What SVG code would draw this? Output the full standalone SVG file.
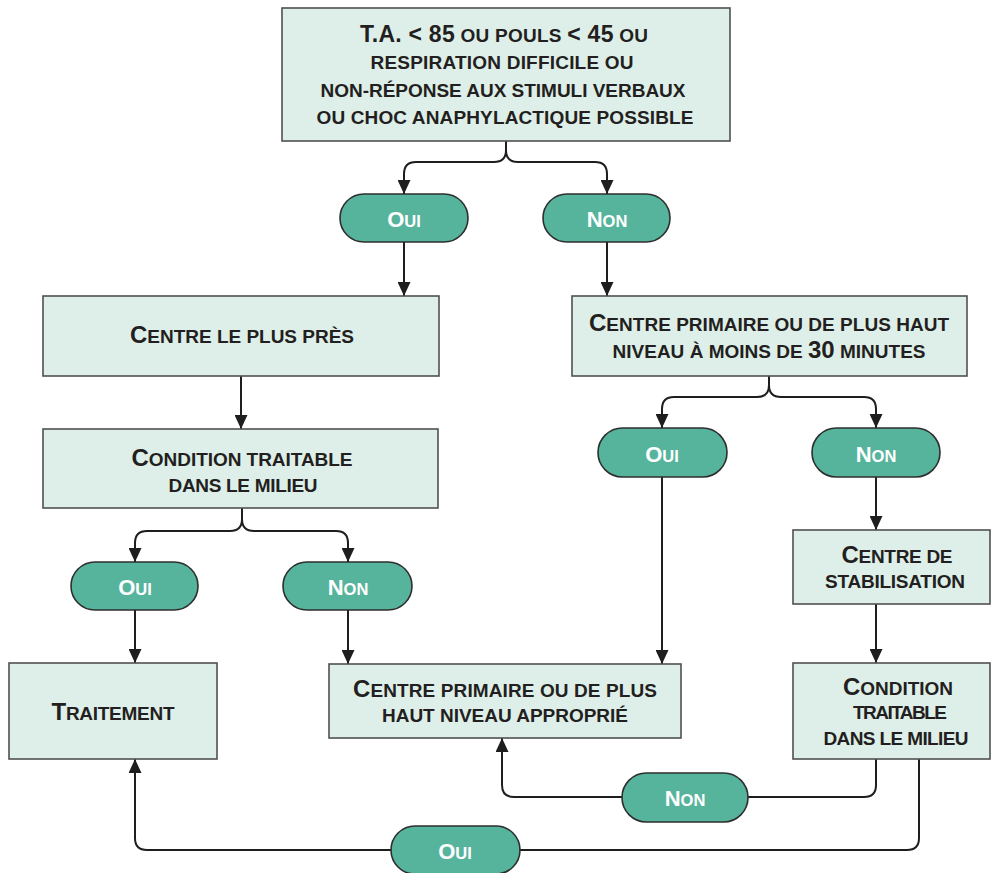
<svg xmlns="http://www.w3.org/2000/svg" width="991" height="873" viewBox="0 0 991 873">
<defs>
<style>
.box{fill:#deefe9;stroke:#505050;stroke-width:1.6}
.pill{fill:#56b49d;stroke:#2e2e2e;stroke-width:1.6}
.ln{fill:none;stroke:#1e1e1e;stroke-width:2}
.t{font-family:"Liberation Sans",Arial,Helvetica,sans-serif;font-weight:bold;fill:#231f20;text-anchor:middle;font-size:19px}
.pt{font-family:"Liberation Sans",Arial,Helvetica,sans-serif;font-weight:bold;fill:#ffffff;text-anchor:middle;font-size:16.5px}
.L{font-size:24px}
.L2{font-size:23px}
.L3{font-size:22px}
</style>
<marker id="ah" markerUnits="userSpaceOnUse" viewBox="0 0 14 13" markerWidth="14" markerHeight="13" refX="14" refY="6.5" orient="auto">
<path d="M0,0 L14,6.5 L0,13 Z" fill="#1e1e1e"/>
</marker>
</defs>
<rect width="991" height="873" fill="#ffffff"/>
<g id="connectors">
<path class="ln" marker-end="url(#ah)" d="M506,141 V150 Q506,162 494,162 H416 Q404,162 404,174 V194"/>
<path class="ln" marker-end="url(#ah)" d="M506,141 V150 Q506,162 518,162 H595 Q607,162 607,174 V194"/>
<path class="ln" marker-end="url(#ah)" d="M404,242 V296"/>
<path class="ln" marker-end="url(#ah)" d="M607,242 V296"/>
<path class="ln" marker-end="url(#ah)" d="M241,376 V429"/>
<path class="ln" marker-end="url(#ah)" d="M242,508 V519 Q242,531 230,531 H147 Q135,531 135,543 V562"/>
<path class="ln" marker-end="url(#ah)" d="M242,508 V519 Q242,531 254,531 H336 Q348,531 348,543 V562"/>
<path class="ln" marker-end="url(#ah)" d="M135,610 V663"/>
<path class="ln" marker-end="url(#ah)" d="M348,610 V664"/>
<path class="ln" marker-end="url(#ah)" d="M769,376 V385 Q769,397 757,397 H674 Q662,397 662,409 V428"/>
<path class="ln" marker-end="url(#ah)" d="M769,376 V385 Q769,397 781,397 H864 Q876,397 876,409 V428"/>
<path class="ln" marker-end="url(#ah)" d="M662,477 V664"/>
<path class="ln" marker-end="url(#ah)" d="M876,477 V530"/>
<path class="ln" marker-end="url(#ah)" d="M876,604 V663"/>
<path class="ln" marker-end="url(#ah)" d="M876,759 V785 Q876,797 864,797 H514 Q502,797 502,785 V738"/>
<path class="ln" marker-end="url(#ah)" d="M919,759 V838 Q919,850 907,850 H147 Q135,850 135,838 V759"/>
</g>
<g id="n-top">
<rect class="box" x="282" y="8" width="448" height="133"/>
<text class="t" x="504" y="42" textLength="288" lengthAdjust="spacing"><tspan class="L2">T.A. &lt; 85</tspan> OU POULS <tspan class="L2">&lt; 45</tspan> OU</text>
<text class="t" x="502" y="69" textLength="263" lengthAdjust="spacing">RESPIRATION DIFFICILE OU</text>
<text class="t" x="503" y="97" textLength="365" lengthAdjust="spacing">NON-RÉPONSE AUX STIMULI VERBAUX</text>
<text class="t" x="505" y="124" textLength="377" lengthAdjust="spacing">OU CHOC ANAPHYLACTIQUE POSSIBLE</text>
</g>
<g id="p-oui1">
<rect class="pill" x="340" y="194" width="128" height="48" rx="24"/>
<text class="pt" x="404" y="227"><tspan class="L3">O</tspan>UI</text>
</g>
<g id="p-non1">
<rect class="pill" x="543" y="194" width="127" height="48" rx="24"/>
<text class="pt" x="607" y="227"><tspan class="L3">N</tspan>ON</text>
</g>
<g id="n-pres">
<rect class="box" x="43" y="296" width="396" height="80"/>
<text class="t" x="242" y="343" textLength="224" lengthAdjust="spacing"><tspan class="L">C</tspan>ENTRE LE PLUS PRÈS</text>
</g>
<g id="n-cond1">
<rect class="box" x="43" y="429" width="395" height="79"/>
<text class="t" x="242" y="466" textLength="221" lengthAdjust="spacing"><tspan class="L">C</tspan>ONDITION TRAITABLE</text>
<text class="t" x="243" y="492" textLength="149" lengthAdjust="spacing">DANS LE MILIEU</text>
</g>
<g id="p-oui2">
<rect class="pill" x="71" y="562" width="127" height="48" rx="24"/>
<text class="pt" x="135" y="595"><tspan class="L3">O</tspan>UI</text>
</g>
<g id="p-non2">
<rect class="pill" x="283" y="562" width="129" height="48" rx="24"/>
<text class="pt" x="348" y="595"><tspan class="L3">N</tspan>ON</text>
</g>
<g id="n-traitement">
<rect class="box" x="9" y="663" width="208" height="96"/>
<text class="t" x="113" y="720" textLength="123" lengthAdjust="spacing"><tspan class="L">T</tspan>RAITEMENT</text>
</g>
<g id="n-30min">
<rect class="box" x="572" y="296" width="395" height="80"/>
<text class="t" x="769" y="331" textLength="360" lengthAdjust="spacing"><tspan class="L">C</tspan>ENTRE PRIMAIRE OU DE PLUS HAUT</text>
<text class="t" x="769" y="358" textLength="313" lengthAdjust="spacing">NIVEAU À MOINS DE <tspan class="L">30</tspan> MINUTES</text>
</g>
<g id="p-oui3">
<rect class="pill" x="598" y="428" width="129" height="49" rx="24.5"/>
<text class="pt" x="662" y="462"><tspan class="L3">O</tspan>UI</text>
</g>
<g id="p-non3">
<rect class="pill" x="812" y="428" width="128" height="49" rx="24.5"/>
<text class="pt" x="876" y="462"><tspan class="L3">N</tspan>ON</text>
</g>
<g id="n-approprie">
<rect class="box" x="329" y="664" width="352" height="74"/>
<text class="t" x="505" y="697" textLength="304" lengthAdjust="spacing"><tspan class="L">C</tspan>ENTRE PRIMAIRE OU DE PLUS</text>
<text class="t" x="505" y="722" textLength="246" lengthAdjust="spacing">HAUT NIVEAU APPROPRIÉ</text>
</g>
<g id="n-stab">
<rect class="box" x="793" y="530" width="197" height="74"/>
<text class="t" x="897" y="563" textLength="111" lengthAdjust="spacing"><tspan class="L">C</tspan>ENTRE DE</text>
<text class="t" x="895" y="588" textLength="140" lengthAdjust="spacing">STABILISATION</text>
</g>
<g id="n-cond2">
<rect class="box" x="793" y="663" width="197" height="96"/>
<text class="t" x="898" y="695" textLength="110" lengthAdjust="spacing"><tspan class="L">C</tspan>ONDITION</text>
<text class="t" x="900" y="719" textLength="94" lengthAdjust="spacing">TRAITABLE</text>
<text class="t" x="896" y="745" textLength="145" lengthAdjust="spacing">DANS LE MILIEU</text>
</g>
<g id="p-non4">
<rect class="pill" x="622" y="773" width="126" height="49" rx="24.5"/>
<text class="pt" x="685" y="806"><tspan class="L3">N</tspan>ON</text>
</g>
<g id="p-oui4">
<rect class="pill" x="391" y="826" width="129" height="48" rx="24"/>
<text class="pt" x="455" y="859"><tspan class="L3">O</tspan>UI</text>
</g>
</svg>
